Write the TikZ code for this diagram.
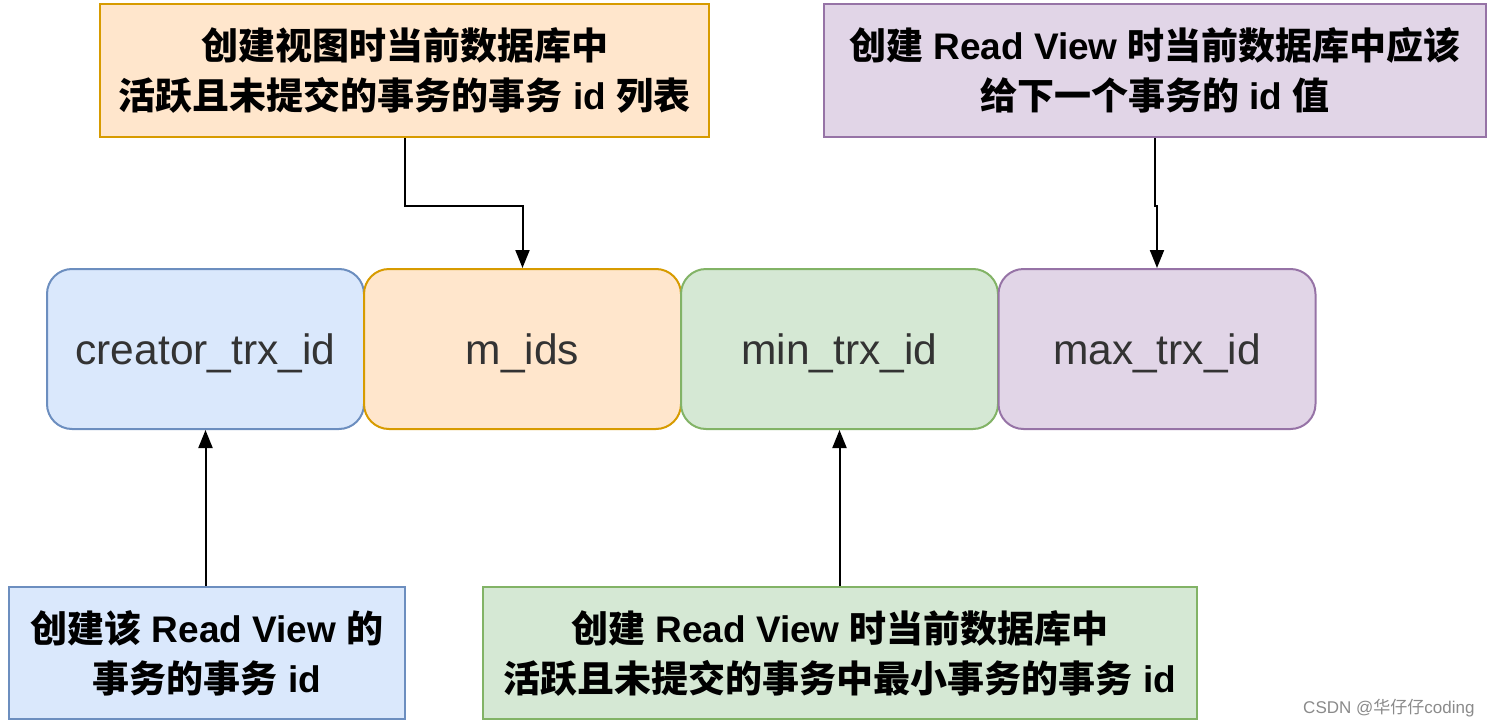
\documentclass[tikz,border=0pt]{standalone}
\usepackage{fontspec}
\setmainfont{Liberation Sans}
\newfontfamily\cjk{Noto Sans CJK SC}
\usetikzlibrary{arrows.meta}
\definecolor{bluefill}{HTML}{DAE8FC}\definecolor{bluedraw}{HTML}{6C8EBF}
\definecolor{orangefill}{HTML}{FFE6CC}\definecolor{orangedraw}{HTML}{D79B00}
\definecolor{greenfill}{HTML}{D5E8D4}\definecolor{greendraw}{HTML}{82B366}
\definecolor{purplefill}{HTML}{E1D5E7}\definecolor{purpledraw}{HTML}{9673A6}
\definecolor{textgray}{HTML}{333333}
\definecolor{wmgray}{HTML}{8A8A8A}
\newcommand\zh[1]{{\cjk #1}}
\begin{document}
\begin{tikzpicture}[x=1pt,y=-1pt,
  note/.style={draw, line width=2pt, align=center, inner sep=0pt, minimum height=133pt,
    font=\fontsize{37}{50}\selectfont\bfseries},
  field/.style={draw, rounded corners=25pt, line width=2pt, minimum width=317pt, minimum height=160pt,
    inner sep=0pt, text height=40pt, text depth=10pt, font=\fontsize{42.5}{48}\selectfont, text=textgray},
  link/.style={line width=2pt, -{Triangle[length=18pt,width=14pt]}}]
\useasboundingbox (0,0) rectangle (1492,728);
% fields
\node[field, fill=bluefill, draw=bluedraw] (creator) at (205.5,349) {creator\_trx\_id};
\node[field, fill=orangefill, draw=orangedraw] (mids) at (522.5,349) {m\_ids};
\node[field, fill=greenfill, draw=greendraw] (min) at (839.5,349) {min\_trx\_id};
\node[field, fill=purplefill, draw=purpledraw] (max) at (1157,349) {max\_trx\_id};
% notes
\node[note, fill=orangefill, draw=orangedraw, minimum width=609pt] (t1) at (404.5,70.5)
  {\zh{创建视图时当前数据库中}\\\zh{活跃且未提交的事务的事务} id \zh{列表}};
\node[note, fill=purplefill, draw=purpledraw, minimum width=662pt] (t2) at (1155,70.5)
  {\zh{创建} Read View \zh{时当前数据库中应该}\\\zh{给下一个事务的} id \zh{值}};
\node[note, fill=bluefill, draw=bluedraw, minimum width=396pt, minimum height=132pt] (b1) at (207,653)
  {\zh{创建该} Read View \zh{的}\\\zh{事务的事务} id};
\node[note, fill=greenfill, draw=greendraw, minimum width=714pt, minimum height=132pt] (b2) at (840,653)
  {\zh{创建} Read View \zh{时当前数据库中}\\\zh{活跃且未提交的事务中最小事务的事务} id};
% connectors
\draw[link] (t1.south) -- ++(0,68) -| (mids.north);
\draw[link] (t2.south) -- ++(0,68) -| (max.north);
\draw[link] (b1.north -| creator.south) -- (creator.south);
\draw[link] (b2.north -| min.south) -- (min.south);
% watermark
\node[text=wmgray, font=\fontsize{17}{20}\selectfont, anchor=east] (wm) at (1478,708) {CSDN @\zh{华仔仔}coding};
\end{tikzpicture}
\end{document}
